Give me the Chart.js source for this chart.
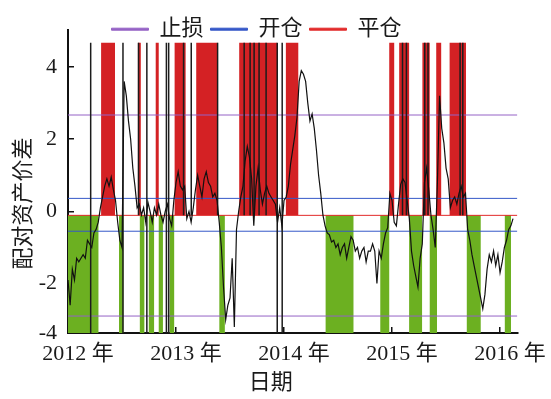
<!DOCTYPE html>
<html>
<head>
<meta charset="utf-8">
<title>配对资产价差</title>
<script src="https://cdn.jsdelivr.net/npm/chart.js@4.4.1/dist/chart.umd.min.js"></script>
<style>
  html, body { margin: 0; padding: 0; background: #fff; }
</style>
</head>
<body>
<canvas id="spreadChart" width="551" height="399"></canvas>
<script>
// axis ranges and ticks
const xMin = 2012;
const xMax = 2016.16;
const yearTicks = [2012, 2013, 2014, 2015, 2016];
const yMin = -3.37;
const yMax = 5.02;
const yTickValues = [-3.37, -2, 0, 2, 4];
const yTickLabels = ['-4', '-2', '0', '2', '4'];

// threshold lines
const stopLossLevels = [2.67, -2.9];
const openLevels = [0.36, -0.55];
const closeLevel = -0.11;
const barTop = 4.67;

// spread, sampled every 0.02 year from the start of 2012
const spreadStart = 2012;
const spreadStep = 0.02;
const spread = [
  -1.9, -2.6, -1.6, -1.9, -1.3, -1.4, -1.3, -1.2, -1.3, -0.8,
  -0.9, -1.0, -0.6, -0.5, -0.3, 0.1, 0.4, 0.7, 0.9, 0.7,
  0.95, 0.6, 0.3, -0.3, -0.8, -1.0, 3.6, 3.2, 2.5, 2.0,
  1.2, 0.7, 0.1, 0.2, -0.1, 0.1, -0.3, 0.25, 0.0, -0.3,
  0.1, -0.1, 0.2, -0.1, -0.3, 0.0, 0.2, -0.2, -0.4, 0.3,
  0.8, 1.1, 0.7, 0.6, 0.7, -0.2, 0.0, -0.3, 0.1, 0.6,
  1.0, 0.7, 0.4, 0.9, 1.1, 0.8, 0.7, 0.4, 0.5, 0.3,
  -0.3, -1.0, -2.1, -3.0, -2.6, -2.4, -1.3, -3.2, -0.5, 0.0,
  0.4, 0.7, 1.4, 1.8, 1.5, 0.9, -0.4, 0.7, 1.2, 0.6,
  0.2, 0.5, 0.7, 0.5, 0.4, 0.3, 0.2, -0.3, 0.1, -0.4,
  0.3, 0.4, 0.7, 1.3, 1.7, 2.1, 2.6, 3.6, 3.9, 3.8,
  3.6, 3.0, 2.5, 2.7, 2.3, 1.7, 1.0, 0.5, -0.1, -0.4,
  -0.6, -0.65, -0.85, -0.8, -1.0, -0.9, -1.2, -1.0, -0.9, -1.3,
  -1.0, -0.7, -0.8, -1.1, -1.0, -1.3, -1.1, -1.0, -1.4, -1.1,
  -1.1, -0.9, -1.1, -2.0, -1.1, -1.3, -0.9, -0.6, -0.45, 0.5,
  0.3, -0.3, -0.4, 0.2, 0.75, 0.9, 0.8, 0.3, -0.2, -1.1,
  -1.5, -1.8, -2.1, -1.3, -0.9, 0.8, 1.2, 0.6, -0.1, -0.5,
  -1.0, 0.8, 3.2, 2.3, 1.9, 1.2, 0.9, 0.1, 0.3, 0.4,
  0.2, 0.5, 0.7, 0.4, 0.5, -0.5, -0.8, -1.2, -1.5, -1.8,
  -2.1, -2.4, -2.7, -2.3, -1.6, -1.2, -1.4, -1.1, -1.5, -1.2,
  -1.7, -1.4, -1.0, -0.8, -0.5, -0.4, -0.2
];

// holding periods [start, end] in years
const shortPeriods = [
  [2012.306, 2012.435], [2012.647, 2012.674], [2012.812, 2012.840],
  [2012.987, 2013.089], [2013.187, 2013.385], [2013.585, 2013.935],
  [2014.017, 2014.132], [2014.974, 2015.020], [2015.066, 2015.158],
  [2015.281, 2015.349], [2015.409, 2015.455], [2015.533, 2015.685]
];
const longPeriods = [
  [2012.000, 2012.282], [2012.472, 2012.513], [2012.665, 2012.707],
  [2012.748, 2012.797], [2012.840, 2012.879], [2012.941, 2012.983],
  [2013.401, 2013.452], [2014.385, 2014.643], [2014.891, 2014.974],
  [2015.158, 2015.278], [2015.349, 2015.416], [2015.692, 2015.821],
  [2016.044, 2016.102]
];

// trade signal dates (full height / upper part only)
const signalFull = [2012.210, 2012.509, 2012.730, 2012.911, 2012.932, 2013.937, 2013.983];
const signalUpper = [
  2012.653, 2013.070, 2013.141, 2013.385, 2013.631, 2013.686, 2013.723,
  2013.769, 2013.834, 2015.097, 2015.133, 2015.303, 2015.333, 2015.630, 2015.655
];

const legendNames = ['止损', '开仓', '平仓'];
const fontFamily = "'Liberation Serif', 'Noto Sans CJK SC', serif";
const textColor = '#1a1a1a';

const spreadPoints = spread.map((v, i) => ({ x: spreadStart + i * spreadStep, y: v }));

function levelPoints(levels) {
  const pts = [];
  levels.forEach((lv, i) => {
    if (i > 0) pts.push({ x: xMin, y: null });
    pts.push({ x: xMin, y: lv }, { x: xMax, y: lv });
  });
  return pts;
}

function blockPoints(periods, from, to) {
  const pts = [];
  periods.forEach(([a, b]) => {
    pts.push({ x: a, y: from }, { x: a, y: to }, { x: b, y: to }, { x: b, y: from });
  });
  return pts;
}

const signalPoints = [];
signalFull.forEach((d) => signalPoints.push({ x: d, y: yMin }, { x: d, y: barTop }, { x: d, y: null }));
signalUpper.forEach((d) => signalPoints.push({ x: d, y: closeLevel }, { x: d, y: barTop }, { x: d, y: null }));

// legend overlaps the top of the plot in the source figure, a bit left of centre
const legendLayout = {
  id: 'legendLayout',
  beforeInit(chart) {
    const legend = chart.legend;
    if (!legend) return;
    const fit = legend.fit;
    legend.fit = function () {
      fit.call(this);
      this.lineWidths[0] += 7;
      this.height = 19;
    };
  },
  afterLayout(chart) {
    if (chart.legend) chart.legend.bottom = chart.legend.top + 40;
  }
};

const ctx = document.getElementById('spreadChart').getContext('2d');

new Chart(ctx, {
  type: 'line',
  data: {
    datasets: [
      { label: '价差', data: spreadPoints, borderColor: '#111', borderWidth: 1.2 },
      { label: '信号', data: signalPoints, borderColor: '#1c1c1c', borderWidth: 1.5 },
      { label: '止损', data: levelPoints(stopLossLevels), borderColor: '#9563c6', backgroundColor: '#9563c6', borderWidth: 1 },
      { label: '开仓', data: levelPoints(openLevels), borderColor: '#3558c8', backgroundColor: '#3558c8', borderWidth: 1 },
      { label: '平仓', data: [{ x: xMin, y: closeLevel }, { x: xMax, y: closeLevel }], borderColor: '#e22a2a', backgroundColor: '#e22a2a', borderWidth: 1 },
      {
        label: '空头',
        data: blockPoints(shortPeriods, closeLevel, barTop),
        borderColor: 'rgba(0,0,0,0)',
        borderWidth: 0,
        backgroundColor: '#d42124',
        fill: { value: closeLevel }
      },
      {
        label: '多头',
        data: blockPoints(longPeriods, closeLevel, yMin),
        borderColor: 'rgba(0,0,0,0)',
        borderWidth: 0,
        backgroundColor: '#6cb021',
        fill: { value: closeLevel }
      }
    ]
  },
  options: {
    responsive: false,
    animation: false,
    spanGaps: false,
    elements: { point: { radius: 0 }, line: { tension: 0 } },
    layout: { padding: { top: 7, right: 31, bottom: 0, left: 0 } },
    plugins: {
      tooltip: { enabled: false },
      legend: {
        position: 'top',
        labels: {
          filter: (item) => legendNames.includes(item.text),
          boxWidth: 37,
          boxHeight: 2,
          padding: 7,
          color: textColor,
          font: { family: fontFamily, size: 22 }
        }
      }
    },
    scales: {
      x: {
        type: 'linear',
        min: xMin,
        max: xMax,
        afterBuildTicks: (s) => { s.ticks = yearTicks.map((v) => ({ value: v })); },
        afterFit: (s) => { s.height = 66; },
        border: { display: true, color: '#111', width: 2 },
        grid: { display: true, drawOnChartArea: false, drawTicks: true, tickLength: -6, color: '#111', lineWidth: 1.5 },
        ticks: {
          padding: 14,
          labelOffset: 10,
          maxRotation: 0,
          autoSkip: false,
          color: textColor,
          font: { family: fontFamily, size: 22 },
          callback: (v) => v + ' 年'
        },
        title: {
          display: true,
          text: '日期　　',
          color: textColor,
          font: { family: fontFamily, size: 22 },
          padding: { top: 0, bottom: 3 }
        }
      },
      y: {
        type: 'linear',
        min: yMin,
        max: yMax,
        afterBuildTicks: (s) => { s.ticks = yTickValues.map((v) => ({ value: v })); },
        afterFit: (s) => { s.width = 68; },
        border: { display: true, color: '#111', width: 2 },
        grid: { display: true, drawOnChartArea: false, drawTicks: true, tickLength: -6, color: '#111', lineWidth: 1.5 },
        ticks: {
          padding: 17,
          color: textColor,
          font: { family: fontFamily, size: 22 },
          callback: (v, i) => yTickLabels[i]
        },
        title: {
          display: true,
          text: '配对资产价差　　',
          color: textColor,
          font: { family: fontFamily, size: 22 },
          padding: { top: 11, bottom: 0 }
        }
      }
    }
  },
  plugins: [legendLayout]
});
</script>
</body>
</html>
